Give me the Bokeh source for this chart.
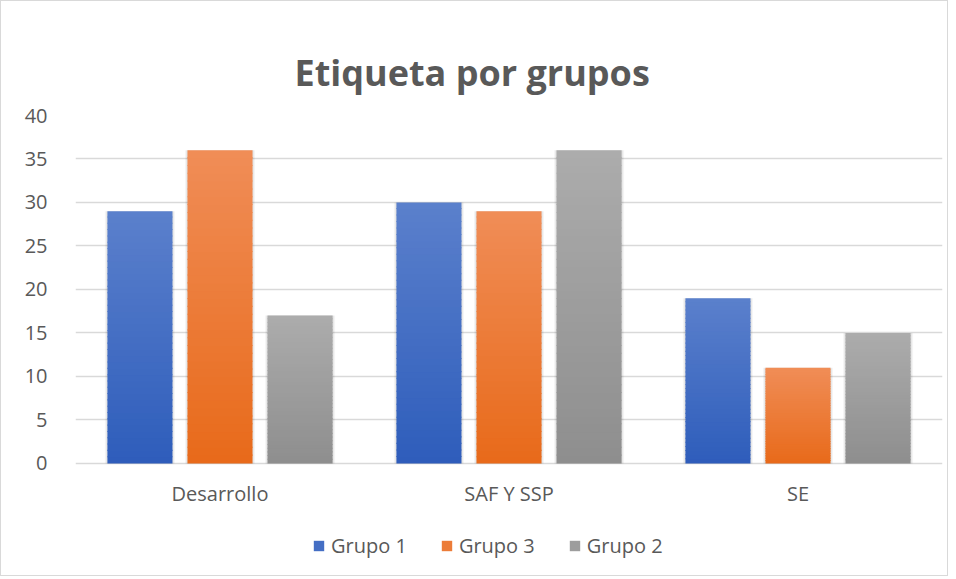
from bokeh.plotting import figure
from bokeh.models import FactorRange, ColumnDataSource, Legend, LegendItem, FixedTicker
from bokeh.core.properties import value
from bokeh.transform import dodge
from bokeh.embed import file_html
from bokeh.resources import INLINE

categories = ["Desarrollo", "SAF Y SSP", "SE"]
series_names = ["Grupo 1", "Grupo 3", "Grupo 2"]
grupo1 = [29, 30, 19]
grupo3 = [36, 29, 11]
grupo2 = [17, 36, 15]
series_values = [grupo1, grupo3, grupo2]
y_ticks = [0, 5, 10, 15, 20, 25, 30, 35, 40]

# gradient colours (top, bottom)
grad = [((0x5b, 0x80, 0xcc), (0x2e, 0x5d, 0xbb)),
        ((0xf0, 0x8d, 0x57), (0xe8, 0x6a, 0x1a)),
        ((0xac, 0xac, 0xac), (0x8e, 0x8e, 0x8e))]
offsets = [-0.277, 0.0, 0.277]
BW = 0.225
N = 40
YMIN = -12.3
LABEL_Y = -3.45

FONT = "Open Sans"
TXT = "#595959"

p = figure(x_range=FactorRange(*categories), y_range=(YMIN, 40),
           frame_width=867, frame_height=455, width=946, height=576,
           output_backend="svg", toolbar_location=None,
           min_border_left=74, min_border_right=5, min_border_top=114, min_border_bottom=5)
p.styles = {"border": "1px solid #d9d9d9"}

p.title.text = "Etiqueta por grupos"
p.title.text_font = FONT
p.title.text_font_size = "36px"
p.title.text_font_style = "bold"
p.title.text_color = TXT
p.title.align = "left"
p.title.offset = 219
p.title.standoff = 37

def hexc(c):
    return "#%02x%02x%02x" % tuple(int(round(v)) for v in c)

items = []
for j, (name, vals) in enumerate(zip(series_names, series_values)):
    top_c, bot_c = grad[j]
    # soft shadow
    sh = ColumnDataSource(dict(cat=categories, top=vals))
    for k, a in enumerate([0.05, 0.04, 0.03]):
        p.vbar(x=dodge("cat", offsets[j], range=p.x_range), top="top", bottom=0,
               width=BW + 0.006 * (k + 1), source=sh, fill_color="#000000",
               fill_alpha=a, line_color=None)
    xs, bs, ts, cs = [], [], [], []
    for i, c in enumerate(categories):
        v = vals[i]
        for k in range(N):
            t = (k + 0.5) / N
            col = tuple(bot_c[m] + (top_c[m] - bot_c[m]) * t for m in range(3))
            xs.append(c)
            bs.append(v * k / N)
            ts.append(v * (k + 1) / N + (0.12 if k < N - 1 else 0))
            cs.append(hexc(col))
    src = ColumnDataSource(dict(cat=xs, bottom=bs, top=ts, color=cs))
    p.vbar(x=dodge("cat", offsets[j], range=p.x_range), top="top", bottom="bottom",
           width=BW, source=src, fill_color="color", line_color=None)
    leg = p.vbar(x=[categories[0]], top=[0], bottom=[0], width=0, line_color=None,
                 fill_color=hexc(tuple((a + b) / 2 for a, b in zip(top_c, bot_c))))
    items.append(LegendItem(label=name, renderers=[leg]))

# category labels
lab = ColumnDataSource(dict(cat=categories, y=[LABEL_Y] * len(categories)))
p.text(x="cat", y="y", text="cat", source=lab, text_align="center", text_baseline="middle",
       text_font=value(FONT), text_font_size="20px", text_color=TXT)

legend = Legend(items=items, orientation="horizontal", location=(237, 11),
                label_text_font=FONT, label_text_font_size="20px", label_text_color=TXT,
                glyph_width=13, glyph_height=13, spacing=33, border_line_color=None,
                background_fill_alpha=0, margin=0, padding=0, label_standoff=6)
p.add_layout(legend)

p.yaxis.ticker = FixedTicker(ticks=y_ticks)
p.yaxis.axis_line_color = None
p.yaxis.major_tick_line_color = None
p.yaxis.minor_tick_line_color = None
p.yaxis.major_label_text_font = FONT
p.yaxis.major_label_text_font_size = "20px"
p.yaxis.major_label_text_color = TXT
p.yaxis.major_label_standoff = 22

p.xaxis.visible = False

p.xgrid.grid_line_color = None
p.ygrid.grid_line_color = "#d9d9d9"
p.ygrid.grid_line_width = 1.5
p.outline_line_color = None

open("out.html", "w").write(file_html(p, INLINE))
